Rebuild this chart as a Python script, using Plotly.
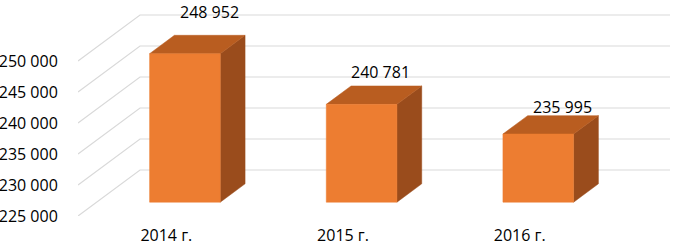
import plotly.graph_objects as go

# ---- data ----
categories = ["2014 г.", "2015 г.", "2016 г."]
values = [248952, 240781, 235995]
tick_values = [225000, 230000, 235000, 240000, 245000, 250000]

# ---- style / geometry (pseudo-3D oblique projection) ----
W, H = 675, 247
ML, MR, MT, MB = 78, 5, 0, 31
plot_w = W - ML - MR
plot_h = H - MT - MB
depth_px_x, depth_px_y = 62, 46          # full floor depth offset in pixels
slot_px = (plot_w - depth_px_x) / len(categories)
DX = depth_px_x / slot_px                # depth offset in x units
ymin = tick_values[0]
k = 0.0062                               # px per value unit
DY = depth_px_y / k                      # depth offset in value units
ymax = ymin + plot_h / k
d0, d1 = 0.3, 0.7                        # bar depth extent
half_w = 0.2                             # half bar width in slot units
label_yshift = [23, 14, 9]
label_xshift = [0, -6, -1]

FRONT = "#ED7D31"
TOP = "#B95D20"
SIDE = "#9A4C1C"
GRID = "#D9D9D9"
FONT = dict(family="Open Sans", size=16, color="black")

fig = go.Figure()

# gridlines: left wall diagonal + back wall horizontal
for v in tick_values:
    x0 = -0.5
    fig.add_trace(go.Scatter(
        x=[x0, x0 + DX, len(categories) - 0.5 + DX],
        y=[v, v + DY, v + DY],
        mode="lines", line=dict(color=GRID, width=1.2),
        hoverinfo="skip", showlegend=False, cliponaxis=False))

def poly(xs, ys, color):
    fig.add_trace(go.Scatter(
        x=xs + [xs[0]], y=ys + [ys[0]], mode="lines", fill="toself",
        fillcolor=color, line=dict(color=color, width=0.5),
        hoverinfo="skip", showlegend=False))

for i, v in enumerate(values):
    base_f = ymin + d0 * DY
    top_f = v + d0 * DY
    xl_f = i - half_w + d0 * DX
    xr_f = i + half_w + d0 * DX
    ddx = (d1 - d0) * DX
    ddy = (d1 - d0) * DY
    # side face
    poly([xr_f, xr_f + ddx, xr_f + ddx, xr_f],
         [base_f, base_f + ddy, top_f + ddy, top_f], SIDE)
    # top face
    poly([xl_f, xr_f, xr_f + ddx, xl_f + ddx],
         [top_f, top_f, top_f + ddy, top_f + ddy], TOP)
    # front face
    poly([xl_f, xr_f, xr_f, xl_f],
         [base_f, base_f, top_f, top_f], FRONT)
    # data label
    fig.add_annotation(
        x=i + d1 * DX, y=v + d1 * DY,
        text=f"{v:,}".replace(",", " "),
        showarrow=False, yanchor="middle", xanchor="center",
        yshift=label_yshift[i], xshift=label_xshift[i], font=FONT)

fig.update_layout(
    width=W, height=H,
    margin=dict(l=ML, r=MR, t=MT, b=MB),
    plot_bgcolor="white", paper_bgcolor="white",
    showlegend=False,
    separators=", ",
    xaxis=dict(range=[-0.5, len(categories) - 0.5 + DX],
               tickvals=list(range(len(categories))), ticktext=categories,
               showgrid=False, zeroline=False, showline=False,
               ticks="outside", ticklen=5, tickcolor="rgba(0,0,0,0)",
               tickfont=FONT, fixedrange=True, automargin=False),
    yaxis=dict(range=[ymin, ymax], tickvals=tick_values, tickformat=",d",
               showgrid=False, zeroline=False, showline=False,
               ticks="outside", ticklen=16, tickcolor="rgba(0,0,0,0)",
               tickfont=FONT, fixedrange=True, automargin=False),
)

fig.write_html("out.html",
               config={"displayModeBar": False, "staticPlot": True},
               post_script="document.body.style.margin='0';document.body.style.overflow='hidden';")
